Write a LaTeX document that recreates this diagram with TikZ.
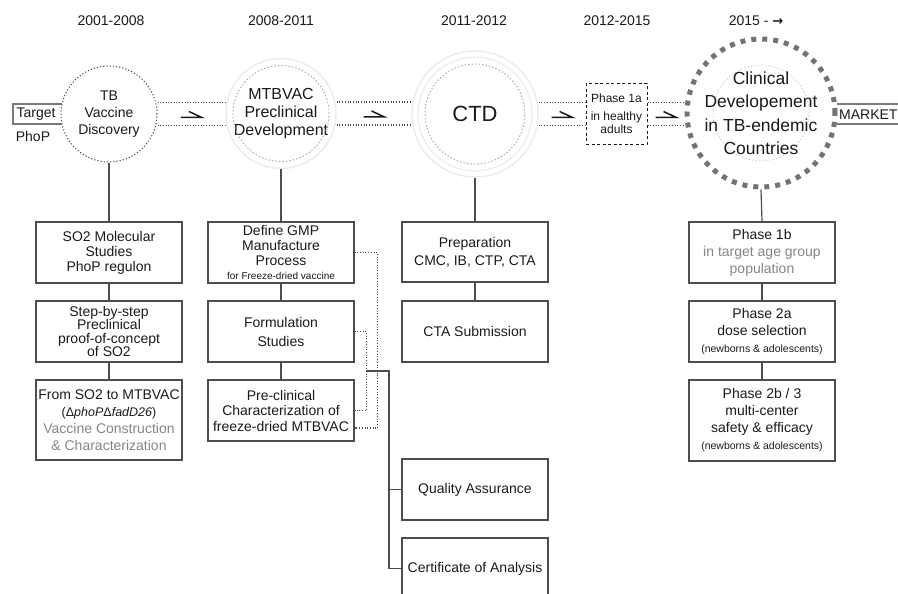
\documentclass[tikz,border=0pt]{standalone}
\usepackage{fontspec}
\setmainfont{Liberation Sans}
\newfontfamily\dejavu{DejaVu Sans}
\usetikzlibrary{calc}
\definecolor{ink}{HTML}{1A1A1A}
\definecolor{edge}{HTML}{4D4D4D}
\definecolor{soft}{HTML}{858585}
\definecolor{faint}{HTML}{ECECEC}
\definecolor{dotc}{HTML}{4A4A4A}
\definecolor{bigdot}{HTML}{737373}
\definecolor{frm}{HTML}{7A7A7A}
\begin{document}
\begin{tikzpicture}[x=1pt,y=-1pt, font=\fontsize{14}{15}\selectfont, text=ink,
 stepbox/.style={draw=edge, line width=1.2pt, minimum width=146pt, align=center, inner sep=0pt},
 conn/.style={draw=edge, line width=1.2pt},
 dotlink/.style={draw=dotc, line width=1.1pt, dash pattern=on 1pt off 1.7pt},
 harp/.style={draw=ink, line width=1.5pt},
 frame/.style={draw=frm, line width=2pt},
 yr/.style={font=\fontsize{14}{16}\selectfont},
 ring/.style={circle, inner sep=0pt, align=center}
]
\useasboundingbox (0,0) rectangle (898,594);

% year labels
\node[yr] (y1) at (111,21) {2001-2008};
\node[yr] (y2) at (281,21) {2008-2011};
\node[yr] (y3) at (474,21) {2011-2012};
\node[yr] (y4) at (617,21) {2012-2015};
\node[yr] (y5) at (756,21) {2015 - {\dejavu\bfseries\fontsize{13}{15}\selectfont →}};

% milestone circles
\node[ring, draw=dotc, line width=1pt, dash pattern=on 1.2pt off 2pt, minimum size=96pt,
      font=\fontsize{14}{17}\selectfont] (c1) at (109,114) {TB\\Vaccine\\Discovery};

\node[ring, draw=faint, line width=1.5pt, minimum size=110pt,
      font=\fontsize{16}{18}\selectfont] (c2) at (281,113.5) {MTBVAC\\Preclinical\\Development};
\draw[draw=gray!70, line width=0.9pt, dash pattern=on 1.5pt off 2pt] (c2.center) circle (48pt);

\node[ring, draw=faint, line width=1.5pt, minimum size=126pt,
      font=\fontsize{22}{24}\selectfont] (c3) at (475,114) {CTD};
\draw[draw=faint, line width=1.2pt] (c3.center) circle (57pt);
\draw[draw=gray!70, line width=0.9pt, dash pattern=on 1.5pt off 2pt] (c3.center) circle (50pt);

\node[draw=ink, line width=1pt, dash pattern=on 3pt off 2.5pt, minimum width=61pt, minimum height=60pt,
      inner sep=0pt, align=center, font=\fontsize{12}{13.5}\selectfont] (p1a) at (616.5,114)
      {Phase 1a\\[4pt]in healthy\\adults};

\draw[draw=gray!35, line width=0.9pt, dash pattern=on 1.5pt off 2pt] (761,113) circle (48pt);
\node[ring, draw=bigdot, line width=5pt, dash pattern=on 5pt off 6pt, minimum size=148pt,
      font=\fontsize{17.5}{23.5}\selectfont] (c4) at (761,113)
      {Clinical\\Developement\\in TB-endemic\\Countries};

% dotted double links and harpoons
\foreach \a/\b/\h in {c1/c2/h1, c2/c3/h2, c3/p1a/h3, p1a/c4/h4}{
  \draw[dotlink] ([yshift=11.5pt]\a.east) -- ([yshift=11.5pt]\a.east -| \b.west);
  \draw[dotlink] ([yshift=-11.5pt]\a.east) -- ([yshift=-11.5pt]\a.east -| \b.west);
  \coordinate (\h) at ($(\a.east)!0.5!(\a.east -| \b.west)$);
  \draw[harp] ([shift={(-10.5,3.5)}]\h) -- ++(21,0) -- ++(-13,-6);
}

% Target / PhoP
\node (tgt) at (36,114) {Target};
\node (phop) at (33,136) {PhoP};
\coordinate (tl) at (13,0);
\draw[frame] (c1.168) -- (c1.168 -| tl) -- (c1.192 -| tl) -- (c1.192);

% MARKET
\node[anchor=west, inner sep=0pt] (mkt) at (839,115) {MARKET};
\coordinate (re) at (910,0);
\draw[frame] (c4.7.5) -- (c4.7.5 -| re);
\draw[frame] (c4.352.5) -- (c4.352.5 -| re);

% column 1
\node[stepbox, minimum height=61pt] (b11) at (109,252.5) {SO2 Molecular\\Studies\\PhoP regulon};
\node[stepbox, minimum height=61pt, font=\fontsize{14}{13.5}\selectfont] (b12) at (109,331.5)
  {Step-by-step\\Preclinical\\proof-of-concept\\of SO2};
\node[stepbox, minimum height=80pt, font=\fontsize{14}{17}\selectfont] (b13) at (109,420)
  {From SO2 to MTBVAC\\{\fontsize{12.5}{17}\selectfont(Δ\textit{phoP}Δ\textit{fadD26})}\\\textcolor{soft}{Vaccine Construction}\\\textcolor{soft}{\& Characterization}};

% column 2
\node[stepbox, minimum height=61pt, font=\fontsize{14}{15}\selectfont] (b21) at (281,252.5)
  {Define GMP\\Manufacture\\Process\\[-1.5pt]{\fontsize{10}{12}\selectfont for Freeze-dried vaccine}};
\node[stepbox, minimum height=61pt, font=\fontsize{14}{19}\selectfont] (b22) at (281,331.5) {Formulation\\Studies};
\node[stepbox, minimum height=61pt, font=\fontsize{14}{15.5}\selectfont] (b23) at (281,410.5)
  {Pre-clinical\\Characterization of\\freeze-dried MTBVAC};

% column 3
\node[stepbox, minimum height=60pt, font=\fontsize{14}{18}\selectfont] (b31) at (475,252) {Preparation\\CMC, IB, CTP, CTA};
\node[stepbox, minimum height=61pt] (b32) at (475,331.5) {CTA Submission};
\node[stepbox, minimum height=61pt] (qa) at (475,489.5) {Quality Assurance};
\node[stepbox, minimum height=61pt] (coa) at (475,568.5) {Certificate of Analysis};

% column 4
\node[stepbox, minimum height=61pt, font=\fontsize{14}{17}\selectfont] (b41) at (762,252.5)
  {Phase 1b\\\textcolor{soft}{in target age group}\\\textcolor{soft}{population}};
\node[stepbox, minimum height=61pt, font=\fontsize{14}{17}\selectfont] (b42) at (762,331.5)
  {Phase 2a\\dose selection\\{\fontsize{10.5}{12}\selectfont(newborns \& adolescents)}};
\node[stepbox, minimum height=81pt, font=\fontsize{14}{17}\selectfont] (b43) at (762,420.5)
  {Phase 2b / 3\\multi-center\\safety \& efficacy\\{\fontsize{10.5}{12}\selectfont(newborns \& adolescents)}};

% vertical connectors
\draw[conn] (c1.south) -- (b11.north);
\draw[conn] (b11.south) -- (b12.north);
\draw[conn] (b12.south) -- (b13.north);
\draw[conn] (c2.south) -- (b21.north);
\draw[conn] (b21.south) -- (b22.north);
\draw[conn] (b22.south) -- (b23.north);
\draw[conn] (c3.south) -- (b31.north);
\draw[conn] (b31.south) -- (b32.north);
\draw[conn] (c4.south) -- (b41.north);
\draw[conn] (b41.south) -- (b42.north);
\draw[conn] (b42.south) -- (b43.north);

% dotted feedback links
\draw[dotlink] (b21.east) -- ++(23,0) |- ([yshift=-17.5pt]b23.east);
\draw[dotlink] (b22.east) -- ++(12,0) |- (b23.east);

% bracket to QA and CoA
\coordinate (j) at (366,371);
\draw[conn] (j) -- ++(23,0) |- (coa.west);
\draw[conn] (qa.west) -- ++(-13,0);
\end{tikzpicture}
\end{document}
